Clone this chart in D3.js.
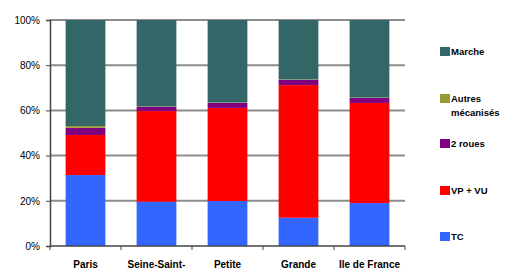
<!DOCTYPE html>
<html lang="fr">
<head>
<meta charset="UTF-8">
<title>Parts modales</title>
<script src="https://cdn.jsdelivr.net/npm/d3@7"></script>
<style>
  body { margin: 0; background: #fff; }
  text { font-family: "Liberation Sans", Arial, sans-serif; }
</style>
</head>
<body>
<div id="chart"></div>
<script>
var zones = ['Paris', 'Seine-Saint-', 'Petite', 'Grande', 'Ile de France'];
var modes = ['TC', 'VP + VU', '2 roues', 'Autres mécanisés', 'Marche'];
var tc      = [31.4, 19.6, 19.9, 12.5, 19.0];
var vp      = [17.7, 40.1, 41.2, 58.7, 44.3];
var deuxR   = [3.2, 1.8, 2.2, 2.3, 2.2];
var autres  = [0.8, 0.2, 0.2, 0.2, 0.2];
var marche  = [46.9, 38.3, 36.5, 26.3, 34.3];
var yTicks  = [0, 20, 40, 60, 80, 100];
var colors  = ['#3366ff', '#ff0000', '#800080', '#999933', '#336666'];

var W = 506, H = 269;
var svg = d3.select('#chart').append('svg').attr('width', W).attr('height', H);

var x = d3.scaleBand().domain(zones).range([50, 405]).paddingInner(0.44).paddingOuter(0.22);
var y = d3.scaleLinear().domain([0, 100]).range([246, 20]);

// grille
svg.append('g').selectAll('line').data(yTicks.slice(1)).enter().append('line')
  .attr('x1', 50).attr('x2', 405)
  .attr('y1', function(d){ return y(d); }).attr('y2', function(d){ return y(d); })
  .attr('stroke', '#8c8c8c').attr('stroke-width', 2);

var rows = zones.map(function(z, i){
  return {zone: z, 'TC': tc[i], 'VP + VU': vp[i], '2 roues': deuxR[i],
          'Autres mécanisés': autres[i], 'Marche': marche[i]};
});
var series = d3.stack().keys(modes).offset(d3.stackOffsetExpand)(rows);

svg.append('g').selectAll('g').data(series).enter().append('g')
  .attr('fill', function(d, i){ return colors[i]; })
  .selectAll('rect').data(function(d){ return d; }).enter().append('rect')
  .attr('x', function(d){ return x(d.data.zone); })
  .attr('width', x.bandwidth())
  .attr('y', function(d){ return y(d[1] * 100); })
  .attr('height', function(d){ return y(d[0] * 100) - y(d[1] * 100); });

// axe Y
var yAxis = d3.axisLeft(y).tickValues(yTicks).tickSize(4).tickPadding(6)
  .tickFormat(function(d){ return d + '%'; });
var gy = svg.append('g').attr('transform', 'translate(50,0)').call(yAxis);
gy.select('.domain').attr('stroke', '#444').attr('stroke-width', 1.5);
gy.selectAll('.tick line').attr('stroke', '#444');
gy.selectAll('text').attr('font-size', 10).attr('fill', '#000')
  .style('font-family', '"Liberation Sans", Arial, sans-serif');

// axe X
var bounds = d3.range(zones.length + 1).map(function(i){ return 50 + i * x.step(); });
var gx = svg.append('g');
gx.append('line').attr('x1', 50).attr('x2', 405).attr('y1', 246).attr('y2', 246)
  .attr('stroke', '#444').attr('stroke-width', 1.5);
gx.selectAll('.tk').data(bounds).enter().append('line')
  .attr('x1', function(d){ return d; }).attr('x2', function(d){ return d; })
  .attr('y1', 246).attr('y2', 250).attr('stroke', '#444');
gx.selectAll('text').data(zones).enter().append('text')
  .attr('x', function(d){ return x(d) + x.bandwidth() / 2; })
  .attr('y', 268).attr('text-anchor', 'middle')
  .attr('font-size', 10).attr('font-weight', 'bold').text(function(d){ return d; });

// légende
var legend = [
  {k: 'Marche', c: colors[4], y: 51, lines: ['Marche']},
  {k: 'Autres', c: colors[3], y: 98, lines: ['Autres', 'mécanisés']},
  {k: '2 roues', c: colors[2], y: 143, lines: ['2 roues']},
  {k: 'VP', c: colors[1], y: 190, lines: ['VP + VU']},
  {k: 'TC', c: colors[0], y: 236, lines: ['TC']}
];
var lg = svg.append('g').selectAll('g').data(legend).enter().append('g');
lg.append('rect').attr('x', 440).attr('y', function(d){ return d.y - 4; })
  .attr('width', 10).attr('height', 9).attr('fill', function(d){ return d.c; });
lg.each(function(d){
  var t = d3.select(this).append('text').attr('font-size', 9.5).attr('font-weight', 'bold');
  d.lines.forEach(function(l, j){
    t.append('tspan').attr('x', 451).attr('y', d.y + 3.5 + j * 14).text(l);
  });
});
</script>
</body>
</html>
